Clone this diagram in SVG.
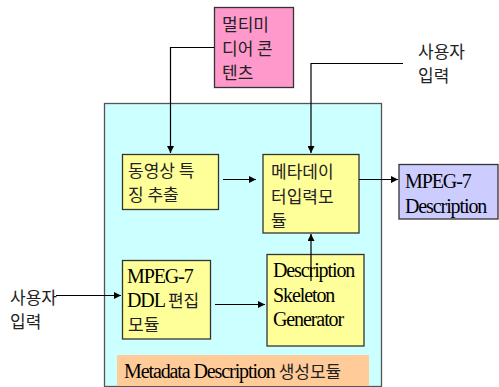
<svg xmlns="http://www.w3.org/2000/svg" width="499" height="387" viewBox="0 0 499 387">
<defs>
<marker id="ah" viewBox="0 0 10 10" refX="10" refY="5" markerWidth="7" markerHeight="7" markerUnits="userSpaceOnUse" orient="auto">
<path d="M0,0 L10,5 L0,10 z" fill="#000"/>
</marker>
<style>
.box{stroke:#333;stroke-width:1.3}
.ko{font-family:"Noto Sans CJK KR","Noto Sans",sans-serif;font-size:17px;fill:#222;letter-spacing:0}
.en{font-family:"Liberation Serif","Noto Sans CJK KR",serif;font-size:20px;fill:#000;letter-spacing:-1.1px}
.ln{fill:none;stroke:#000;stroke-width:1.2}
</style>
</defs>
<rect width="499" height="387" fill="#fff"/>
<g id="container">
<rect x="104.5" y="103.5" width="277" height="283" fill="#CCFFFF" stroke="#555" stroke-width="1.3"/>
</g>
<g id="label-metadata">
<rect x="117" y="355" width="252" height="31" fill="#FFCC99"/>
<text x="124" y="378" class="en">Metadata Description <tspan class="ko">생성모듈</tspan></text>
</g>
<g id="multimedia">
<rect x="214.5" y="7.5" width="79" height="80" fill="#FF99CC" class="box"/>
<text class="ko"><tspan x="222" y="31">멀티미</tspan><tspan x="222" y="55">디어 콘</tspan><tspan x="222" y="79">텐츠</tspan></text>
</g>
<g id="feature">
<rect x="122.5" y="154.5" width="96" height="55" fill="#FFFF99" class="box"/>
<text class="ko"><tspan x="128" y="177">동영상 특</tspan><tspan x="128" y="201">징 추출</tspan></text>
</g>
<g id="metainput">
<rect x="263" y="154.5" width="96" height="78.5" fill="#FFFF99" class="box"/>
<text class="ko"><tspan x="271" y="178">메타데이</tspan><tspan x="271" y="203">터입력모</tspan><tspan x="271" y="227">듈</tspan></text>
</g>
<g id="ddl">
<rect x="122.5" y="260.5" width="88" height="78.5" fill="#FFFF99" class="box"/>
<text x="127" y="283" class="en">MPEG-7</text>
<text x="127" y="307" class="en">DDL <tspan class="ko">편집</tspan></text>
<text x="128" y="331" class="ko">모듈</text>
</g>
<g id="skeleton">
<rect x="267" y="254.5" width="97" height="91.5" fill="#FFFF99" class="box"/>
<text class="en"><tspan x="273" y="277">Description</tspan><tspan x="273" y="302">Skeleton</tspan><tspan x="273" y="326">Generator</tspan></text>
</g>
<g id="mpeg7desc">
<rect x="399" y="164.5" width="99" height="54.5" fill="#CCCCFF" class="box"/>
<text class="en"><tspan x="405" y="188">MPEG-7</tspan><tspan x="405" y="213">Description</tspan></text>
</g>
<g id="user-top">
<text class="ko"><tspan x="418" y="58">사용자</tspan><tspan x="418" y="82">입력</tspan></text>
</g>
<g id="user-left">
<text class="ko"><tspan x="10" y="304">사용자</tspan><tspan x="10" y="328">입력</tspan></text>
</g>
<g id="connectors">
<path class="ln" d="M214,47.5 H170.5 V153" marker-end="url(#ah)"/>
<path class="ln" d="M403,63.5 H311 V153" marker-end="url(#ah)"/>
<path class="ln" d="M223,179.5 H256" marker-end="url(#ah)"/>
<path class="ln" d="M359,179.5 H398" marker-end="url(#ah)"/>
<path class="ln" d="M311,281 V234" marker-end="url(#ah)"/>
<path class="ln" d="M56,295.5 H121" marker-end="url(#ah)"/>
<path class="ln" d="M215,304.5 H265" marker-end="url(#ah)"/>
</g>
</svg>
